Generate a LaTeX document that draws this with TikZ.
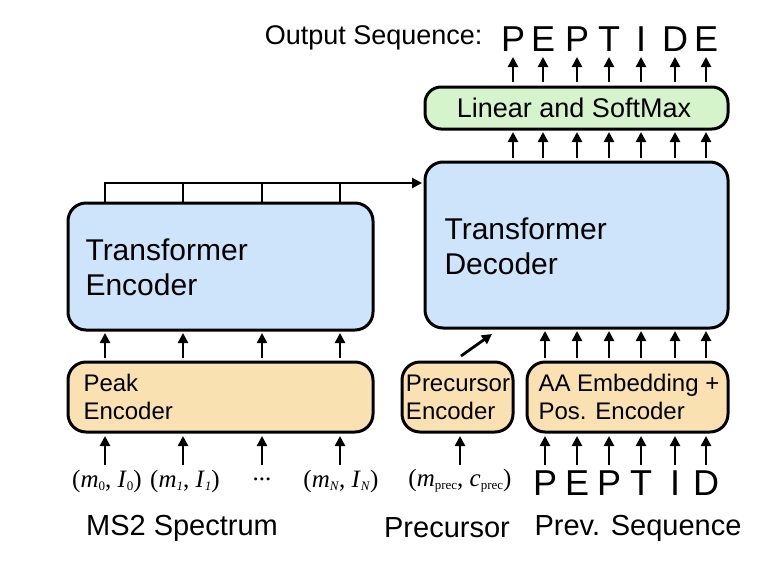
\documentclass[tikz,border=0pt]{standalone}
\usepackage{fontspec}
\setmainfont{Liberation Sans}
\newfontfamily\serifit{Liberation Serif}
\usetikzlibrary{arrows.meta}
\definecolor{bluebox}{RGB}{205,228,250}
\definecolor{orangebox}{RGB}{250,225,178}
\definecolor{greenbox}{RGB}{214,244,204}
\newcommand{\mi}[1]{\textit{#1}}
\newcommand{\sbs}[1]{\raisebox{-3pt}{\fontsize{13}{13}\selectfont #1}}
\begin{document}
\begin{tikzpicture}[x=1pt,y=-1pt,
  box/.style={draw=black,line width=3pt,rounded corners=18pt,inner sep=0pt},
  arr/.style={line width=2.8pt,-{Triangle[length=10pt,width=10pt]}},
  big/.style={font=\fontsize{30}{35}\selectfont,align=left},
  mid/.style={font=\fontsize{24}{28}\selectfont,align=left},
  pep/.style={font=\fontsize{36}{36}\selectfont},
  lab/.style={font=\fontsize{29}{31}\selectfont},
  ms/.style={font=\serifit\fontsize{25}{27}\selectfont}]
\useasboundingbox (0,0) rectangle (778,584);
% boxes
\draw[box,fill=bluebox] (68,203) rectangle (373,330);
\node[big,anchor=west] (enc) at (82,267) {Transformer\\Encoder};
\draw[box,fill=orangebox] (68,362) rectangle (373,432);
\node[mid,anchor=west] (pk) at (80,397) {Peak\\Encoder};
\draw[box,fill=orangebox] (402,362) rectangle (513,432);
\node[mid,anchor=center] (pre) at (458,397) {Precursor\\Encoder};
\draw[box,fill=orangebox] (527,362) rectangle (728,432);
\node[mid,anchor=west] (aa) at (535,397) {AA Embedding +\\Pos. Encoder};
\draw[box,fill=bluebox] (425,162) rectangle (728,328);
\node[big,anchor=west] (dec) at (441,246) {Transformer\\Decoder};
\draw[box,rounded corners=16pt,fill=greenbox] (425,87) rectangle (728,129);
\node[font=\fontsize{27}{29}\selectfont] (lin) at (574,108) {Linear and SoftMax};
% output
\node[font=\fontsize{27}{29}\selectfont,anchor=east] (os) at (486,38) {Output Sequence:};
\foreach \x/\l [count=\i] in {513/P,543/E,577/P,609/T,641/I,675/D,706/E}{
  \node[pep] (o\i) at (\x,39) {\l};
  \draw[arr] (\x,82) -- (\x,57);
  \draw[arr] (\x,158) -- (\x,132);
}
% AA arrows
\foreach \x/\l [count=\i] in {545/P,577/E,609/P,641/T,675/I,706/D}{
  \draw[arr] (\x,358) -- (\x,331);
  \draw[arr] (\x,465) -- (\x,436);
  \node[pep] (p\i) at (\x,483) {\l};
}
% peak arrows
\foreach \x in {105,183,262,340}{
  \draw[arr] (\x,358) -- (\x,333);
  \draw[arr] (\x,465) -- (\x,436);
  \draw[line width=2.8pt] (\x,183) -- (\x,203);
}
\draw[arr] (103.6,183) -- (422,183);
\draw[arr] (460,465) -- (460,436);
\draw[arr] (461,356) -- (492,334);
% inputs
\node[ms] (i0) at (107,481) {(\mi{m}\sbs{0}, \mi{I}\sbs{0})};
\node[ms] (i1) at (185,481) {(\mi{m}\sbs{\mi{1}}, \mi{I}\sbs{\mi{1}})};
\node[ms] (id) at (262,479) {...};
\node[ms] (iN) at (341,481) {(\mi{m}\sbs{\mi{N}}, \mi{I}\sbs{\mi{N}})};
\node[ms] (ip) at (460,481) {(\mi{m}\sbs{prec}, \mi{c}\sbs{prec})};
% bottom labels
\node[lab] (l1) at (182,528) {MS2 Spectrum};
\node[lab] (l2) at (447,528) {Precursor};
\node[lab] (l3) at (638,528) {Prev. Sequence};
\end{tikzpicture}
\end{document}
